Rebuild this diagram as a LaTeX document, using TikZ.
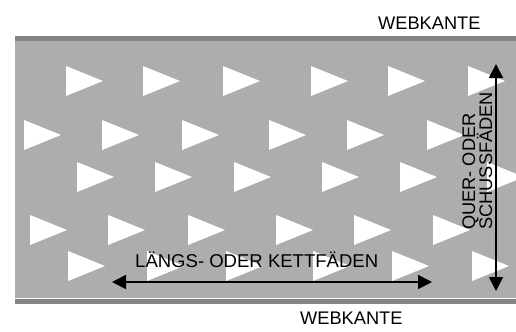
\documentclass[tikz,border=0pt]{standalone}
\usepackage{fontspec}
\setmainfont{Liberation Sans}
\usetikzlibrary{arrows.meta}
\definecolor{cloth}{HTML}{ADADAD}
\definecolor{selvage}{HTML}{848484}
\begin{document}
\begin{tikzpicture}[x=1bp,y=-1bp,
  tri/.style={fill=white},
  lbl/.style={font=\fontsize{18.3}{17.5}\selectfont, inner sep=0pt, text=black},
  dimarrow/.style={line width=1.8bp, {Triangle[length=14bp,width=14bp]}-{Triangle[length=14bp,width=14bp]}}]
\useasboundingbox (0,0) rectangle (516,331);
% cloth and selvages
\fill[cloth] (15,41) rectangle (516,298);
\fill[selvage] (15,36) rectangle (516,41);
\fill[selvage] (15,298.5) rectangle (516,304);
% triangles
\foreach \yc/\xs in {81/{66,143,223,311,388,468},
                    135/{24,102,182,269,347,427},
                    177/{77,155,234,322,400,487},
                    230/{30,108,188,276,354,433},
                    266/{68,147,226,313,392,472}}{
  \foreach \xl in \xs {
    \fill[tri] (\xl,{\yc-15}) -- ({\xl+37},\yc) -- (\xl,{\yc+15}) -- cycle;
  }
}
% labels
\node[lbl, anchor=base west] (topedge) at (378,29) {WEBKANTE};
\node[lbl, anchor=base west] (botedge) at (300,324) {WEBKANTE};
\node[lbl, anchor=base west, font=\fontsize{18.6}{17.5}\selectfont] (warp) at (135,267) {LÄNGS- ODER KETTFÄDEN};
\node[lbl, rotate=90, anchor=base west] (weft1) at (475,230) {QUER- ODER};
\node[lbl, rotate=90, anchor=base west] (weft2) at (492,230) {SCHUSSFÄDEN};
% arrows
\coordinate (hl) at (112,282);
\coordinate (hr) at (432,282);
\coordinate (vt) at (496,64);
\coordinate (vb) at (496,291);
\draw[dimarrow] (hl) -- (hr);
\draw[dimarrow] (vt) -- (vb);
\end{tikzpicture}
\end{document}
